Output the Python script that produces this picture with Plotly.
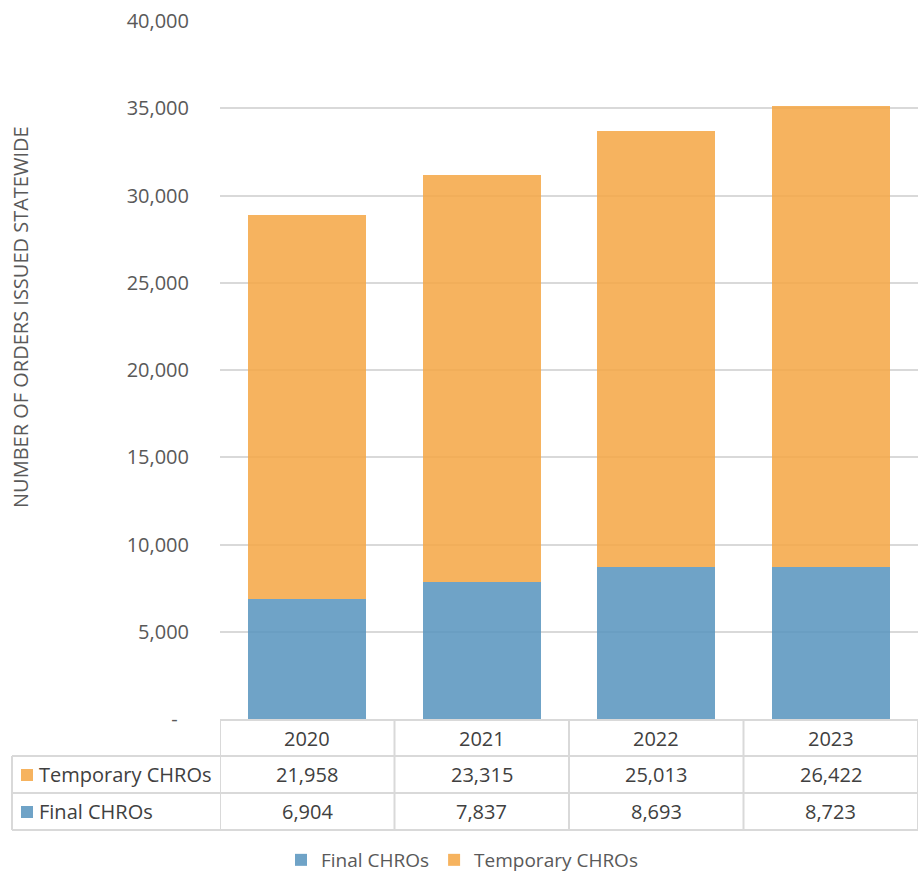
import plotly.graph_objects as go

years = ["2020", "2021", "2022", "2023"]
final_chros = [6904, 7837, 8693, 8723]
temporary_chros = [21958, 23315, 25013, 26422]
y_ticks = [0, 5000, 10000, 15000, 20000, 25000, 30000, 35000, 40000]
y_ticktext = ["-\u2007"] + [f"{v:,}" for v in y_ticks[1:]]

BLUE = "rgba(86,147,189,0.85)"
ORANGE = "rgba(244,166,67,0.85)"
BLUE_SOLID = "#6fa3c7"
ORANGE_SOLID = "#f6b35f"
GRID = "#d9d9d9"
TXT = "#595959"
TBL_TXT = "#404040"
FONT = "Open Sans"

W, H = 919, 875
L, R, T, B = 220, 1, 21, 156
PW = W - L - R
PH = H - T - B


def py(p):  # pixel y -> paper y
    return (H - B - p) / PH


def px(p):  # pixel x -> paper x
    return (p - L) / PW


fig = go.Figure()
fig.add_trace(go.Bar(x=years, y=final_chros, name="Final CHROs",
                     marker=dict(color=BLUE, line=dict(width=0))))
fig.add_trace(go.Bar(x=years, y=temporary_chros, name="Temporary CHROs",
                     marker=dict(color=ORANGE, line=dict(width=0))))

shapes = []
annotations = []
line = dict(color=GRID, width=2)

# table horizontal lines
shapes.append(dict(type="line", xref="paper", yref="paper", x0=0, x1=1,
                   y0=py(720), y1=py(720), line=line, layer="above"))
for yy in [756, 793, 830]:
    shapes.append(dict(type="line", xref="paper", yref="paper", x0=px(12), x1=1,
                       y0=py(yy), y1=py(yy), line=line))
# vertical lines
for i in range(len(years) + 1):
    shapes.append(dict(type="line", xref="x", yref="paper", x0=i - 0.5, x1=i - 0.5,
                       y0=py(720), y1=py(830), line=line))
shapes.append(dict(type="line", xref="paper", yref="paper", x0=px(12), x1=px(12),
                   y0=py(756), y1=py(830), line=line))

TBL_FONT = dict(family=FONT, size=20, color=TBL_TXT)

# header years
for i, yr in enumerate(years):
    annotations.append(dict(x=i, xref="x", y=py(738), yref="paper", text=yr,
                            xanchor="center", yanchor="middle",
                            showarrow=False, font=TBL_FONT))

rows = [("Temporary CHROs", temporary_chros, ORANGE_SOLID, 774),
        ("Final CHROs", final_chros, BLUE_SOLID, 811)]
for name, vals, col, yc in rows:
    shapes.append(dict(type="rect", xref="paper", yref="paper", x0=px(21), x1=px(33),
                       y0=py(yc - 5), y1=py(yc + 7), fillcolor=col, line=dict(width=0)))
    annotations.append(dict(x=px(37), xref="paper", y=py(yc), yref="paper", text=name,
                            xanchor="left", yanchor="middle", showarrow=False,
                            font=TBL_FONT))
    for i, v in enumerate(vals):
        annotations.append(dict(x=i, xref="x", y=py(yc), yref="paper", text=f"{v:,}",
                                xanchor="center", yanchor="middle",
                                showarrow=False, font=TBL_FONT))

# y axis title
annotations.append(dict(x=px(20), xref="paper", y=py(317), yref="paper",
                        text="NUMBER OF ORDERS ISSUED STATEWIDE", textangle=-90,
                        xanchor="center", yanchor="middle",
                        showarrow=False, font=dict(family=FONT, size=20, color=TXT)))

fig.update_layout(
    width=W, height=H,
    margin=dict(l=L, r=R, t=T, b=B, pad=0, autoexpand=False),
    paper_bgcolor="white", plot_bgcolor="white",
    barmode="stack", bargap=0.324,
    font=dict(family=FONT, size=19, color=TXT),
    shapes=shapes, annotations=annotations,
    showlegend=True,
    legend=dict(orientation="h", x=px(462), xanchor="center", y=py(860), yanchor="middle",
                traceorder="normal", font=dict(family=FONT, size=19, color=TXT),
                itemwidth=30, bgcolor="rgba(0,0,0,0)"),
    xaxis=dict(type="category", range=[-0.5, 3.5], showticklabels=False, showgrid=False,
               zeroline=False, showline=False, ticks=""),
    yaxis=dict(range=[0, 40000], tickvals=y_ticks, ticktext=y_ticktext,
               showgrid=True, gridcolor=GRID, gridwidth=2, zeroline=False, showline=False,
               ticks="outside", ticklen=26, tickcolor="rgba(0,0,0,0)",
               tickfont=dict(family=FONT, size=20, color=TXT)),
)

fig.write_html("out.html")
